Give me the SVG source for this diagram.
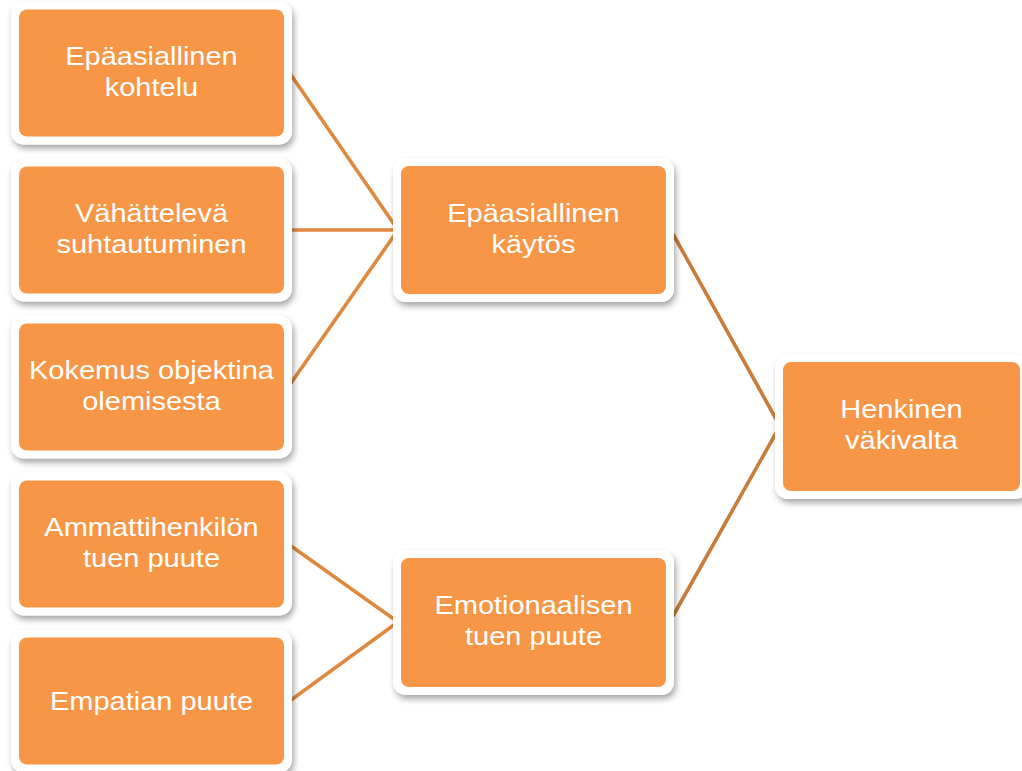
<svg xmlns="http://www.w3.org/2000/svg" width="1022" height="771" viewBox="0 0 1022 771">
  <defs>
    <filter id="shadow" x="-10%" y="-10%" width="125%" height="130%">
      <feDropShadow dx="2" dy="4" stdDeviation="3" flood-color="#000" flood-opacity="0.35"/>
    </filter>
    <style>
      .frame { fill: #ffffff; filter: url(#shadow); }
      .box { fill: #F79646; }
      .label { font-family: "Liberation Sans", Arial, sans-serif; font-size: 25px; fill: #ffffff; text-anchor: middle; }
      .link { stroke: #E0893E; stroke-width: 3.6; fill: none; stroke-linecap: butt; }
      .link2 { stroke: #C97B38; stroke-width: 3.6; fill: none; }
    </style>
  </defs>
  <rect width="1022" height="771" fill="#ffffff"/>

  <!-- connectors -->
  <g id="connectors">
    <polyline class="link" points="291,75 398,230 291,230"/>
    <line class="link" x1="291" y1="383" x2="398" y2="230"/>
    <polyline class="link" points="291,546 398,622 291,700"/>
    <polyline class="link2" points="673,234 780,426 673,616"/>
  </g>

  <!-- left column -->
  <g id="n-kohtelu">
    <rect class="frame" x="11" y="1.5" width="281" height="143" rx="13"/>
    <rect class="box" x="19" y="9.5" width="265" height="127" rx="8"/>
    <g class="label" transform="translate(151.5,0) scale(1.16,1)">
      <text x="0" y="65">Epäasiallinen</text>
      <text x="0" y="96">kohtelu</text>
    </g>
  </g>
  <g id="n-suhtautuminen">
    <rect class="frame" x="11" y="158.5" width="281" height="143" rx="13"/>
    <rect class="box" x="19" y="166.5" width="265" height="127" rx="8"/>
    <g class="label" transform="translate(151.5,0) scale(1.16,1)">
      <text x="0" y="222">Vähättelevä</text>
      <text x="0" y="253">suhtautuminen</text>
    </g>
  </g>
  <g id="n-objektina">
    <rect class="frame" x="11" y="315.5" width="281" height="143" rx="13"/>
    <rect class="box" x="19" y="323.5" width="265" height="127" rx="8"/>
    <g class="label" transform="translate(151.5,0) scale(1.16,1)">
      <text x="0" y="379.5">Kokemus objektina</text>
      <text x="0" y="410.5">olemisesta</text>
    </g>
  </g>
  <g id="n-ammattihenkilo">
    <rect class="frame" x="11" y="472.5" width="281" height="143" rx="13"/>
    <rect class="box" x="19" y="480.5" width="265" height="127" rx="8"/>
    <g class="label" transform="translate(151.5,0) scale(1.16,1)">
      <text x="0" y="536.5">Ammattihenkilön</text>
      <text x="0" y="567.5">tuen puute</text>
    </g>
  </g>
  <g id="n-empatia">
    <rect class="frame" x="11" y="629.5" width="281" height="143" rx="13"/>
    <rect class="box" x="19" y="637.5" width="265" height="127" rx="8"/>
    <g class="label" transform="translate(151.5,0) scale(1.16,1)">
      <text x="0" y="709.5">Empatian puute</text>
    </g>
  </g>

  <!-- middle column -->
  <g id="n-kaytos">
    <rect class="frame" x="393" y="158" width="281" height="144" rx="13"/>
    <rect class="box" x="401" y="166" width="265" height="128" rx="8"/>
    <g class="label" transform="translate(533.5,0) scale(1.16,1)">
      <text x="0" y="222">Epäasiallinen</text>
      <text x="0" y="253">käytös</text>
    </g>
  </g>
  <g id="n-tuki">
    <rect class="frame" x="393" y="550" width="281" height="145" rx="13"/>
    <rect class="box" x="401" y="558" width="265" height="129" rx="8"/>
    <g class="label" transform="translate(533.5,0) scale(1.16,1)">
      <text x="0" y="614.5">Emotionaalisen</text>
      <text x="0" y="645.5">tuen puute</text>
    </g>
  </g>

  <!-- right column -->
  <g id="n-henkinen">
    <rect class="frame" x="775" y="354" width="253" height="145" rx="13"/>
    <rect class="box" x="783" y="362" width="237" height="129" rx="8"/>
    <g class="label" transform="translate(901.5,0) scale(1.16,1)">
      <text x="0" y="418.5">Henkinen</text>
      <text x="0" y="449.5">väkivalta</text>
    </g>
  </g>
</svg>
